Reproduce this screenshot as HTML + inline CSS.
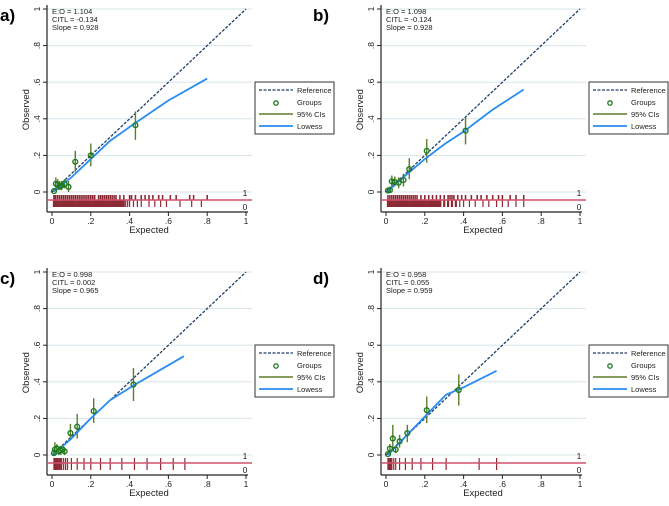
<!DOCTYPE html>
<html><head><meta charset="utf-8">
<style>
body{margin:0;background:#fff;width:669px;height:501px;overflow:hidden;font-family:"Liberation Sans",Arial,sans-serif}
svg text{font-family:"Liberation Sans",Arial,sans-serif}
</style></head>
<body>
<svg id="chart" width="669" height="501" viewBox="0 0 669 501" xmlns="http://www.w3.org/2000/svg"></svg>
<script>
// ---- data ----
const panelLabels = ["a)", "b)", "c)", "d)"];
const statsText = [
  ["E:O = 1.104", "CITL = -0.134", "Slope = 0.928"],
  ["E:O = 1.098", "CITL = -0.124", "Slope = 0.928"],
  ["E:O = 0.998", "CITL = 0.002", "Slope = 0.965"],
  ["E:O = 0.958", "CITL = 0.055", "Slope = 0.959"]
];
const tickValues = [0, 0.2, 0.4, 0.6, 0.8, 1];
const tickLabels = ["0", ".2", ".4", ".6", ".8", "1"];
const groupsA = [[0.01,0.005,0,0.02],[0.02,0.045,0.02,0.08],[0.03,0.04,0.01,0.07],[0.04,0.03,0.01,0.06],[0.05,0.035,0.01,0.06],[0.065,0.045,0.02,0.07],[0.085,0.028,0,0.06],[0.12,0.165,0.11,0.225],[0.2,0.2,0.14,0.265],[0.43,0.365,0.285,0.44]];
const groupsB = [[0.01,0.008,0,0.02],[0.02,0.01,0,0.03],[0.03,0.058,0.03,0.09],[0.045,0.055,0.03,0.085],[0.065,0.05,0.02,0.08],[0.09,0.065,0.03,0.1],[0.12,0.125,0.07,0.185],[0.21,0.225,0.16,0.29],[0.41,0.335,0.26,0.41]];
const groupsC = [[0.01,0.01,0,0.03],[0.015,0.03,0,0.07],[0.025,0.035,0.01,0.06],[0.035,0.02,0,0.05],[0.045,0.025,0,0.05],[0.055,0.03,0.01,0.06],[0.065,0.02,0,0.04],[0.095,0.12,0.08,0.17],[0.13,0.155,0.09,0.225],[0.215,0.24,0.175,0.31],[0.42,0.385,0.295,0.475]];
const groupsD = [[0.01,0.005,0,0.02],[0.02,0.035,0.01,0.06],[0.035,0.09,0.04,0.165],[0.05,0.03,0.01,0.05],[0.07,0.075,0.04,0.11],[0.11,0.12,0.07,0.165],[0.21,0.245,0.175,0.32],[0.375,0.355,0.27,0.44]];
const lowessA = [[0.01,0.005],[0.1,0.08],[0.2,0.18],[0.3,0.28],[0.42,0.37],[0.6,0.5],[0.8,0.62]];
const lowessB = [[0.01,0.005],[0.1,0.09],[0.2,0.18],[0.3,0.26],[0.4,0.33],[0.55,0.45],[0.71,0.56]];
const lowessC = [[0.01,0.005],[0.1,0.09],[0.2,0.2],[0.3,0.3],[0.42,0.38],[0.55,0.46],[0.68,0.54]];
const lowessD = [[0.01,0],[0.1,0.1],[0.2,0.21],[0.31,0.33],[0.4,0.37],[0.57,0.46]];
const rug1A = [0.01,0.015,0.02,0.03,0.04,0.05,0.06,0.07,0.08,0.09,0.1,0.11,0.12,0.13,0.14,0.15,0.16,0.17,0.18,0.19,0.2,0.21,0.22,0.24,0.25,0.26,0.27,0.28,0.29,0.3,0.31,0.32,0.33,0.35,0.37,0.4,0.41,0.43,0.46,0.48,0.5,0.52,0.55,0.57,0.61,0.64,0.71,0.73,0.8];
const rug0A = [0.01,0.02,0.03,0.04,0.05,0.06,0.07,0.08,0.09,0.1,0.11,0.12,0.13,0.14,0.15,0.16,0.17,0.18,0.19,0.2,0.21,0.22,0.23,0.24,0.25,0.26,0.27,0.28,0.29,0.3,0.31,0.32,0.33,0.34,0.35,0.36,0.37,0.38,0.39,0.4,0.42,0.44,0.46,0.5,0.53,0.56,0.59,0.66,0.72,0.77];
const rug1B = [0.01,0.02,0.03,0.04,0.05,0.06,0.07,0.08,0.09,0.1,0.11,0.12,0.13,0.14,0.15,0.16,0.18,0.2,0.22,0.24,0.26,0.28,0.3,0.32,0.33,0.34,0.35,0.37,0.39,0.41,0.44,0.47,0.49,0.52,0.55,0.58,0.6,0.64,0.67,0.71];
const rug0B = [0.01,0.02,0.03,0.04,0.05,0.06,0.07,0.08,0.09,0.1,0.11,0.12,0.13,0.14,0.15,0.16,0.17,0.18,0.19,0.2,0.21,0.22,0.23,0.24,0.25,0.26,0.27,0.28,0.3,0.32,0.34,0.36,0.38,0.4,0.43,0.46,0.5,0.53,0.57,0.6,0.63,0.67,0.71];
const rugC = [0.01,0.015,0.02,0.025,0.03,0.035,0.04,0.045,0.05,0.06,0.07,0.08,0.1,0.13,0.165,0.2,0.25,0.3,0.36,0.425,0.49,0.56,0.625,0.685];
const rugD = [0.01,0.015,0.02,0.025,0.03,0.04,0.05,0.07,0.1,0.135,0.18,0.24,0.31,0.48,0.57];

const panels = [
  {ox:0, oy:0, groups:groupsA, lowess:lowessA, rug1:rug1A, rug0:rug0A, single:false, name:"a"},
  {ox:334, oy:0, groups:groupsB, lowess:lowessB, rug1:rug1B, rug0:rug0B, single:false, name:"b"},
  {ox:0, oy:263, groups:groupsC, lowess:lowessC, rug1:rugC, rug0:[], single:true, name:"c"},
  {ox:334, oy:263, groups:groupsD, lowess:lowessD, rug1:rugD, rug0:[], single:true, name:"d"}
];

const NS = "http://www.w3.org/2000/svg";
const svg = document.getElementById("chart");
function mk(tag, attrs, parent, text){
  const e = document.createElementNS(NS, tag);
  for (const k in attrs) e.setAttribute(k, attrs[k]);
  if (text !== undefined) e.textContent = text;
  parent.appendChild(e);
  return e;
}

panels.forEach((p, i) => {
  const g = mk("g", {}, svg);
  
  
  const xs = v => p.ox + 52 + v * 194;
  const ys = v => p.oy + 192 - v * 183;
  const zeroY = ys(0), lineY = p.oy + 200, axisY = p.oy + 212;
  tickValues.forEach(t => {
    const l = mk("line", {x1:47+p.ox, x2:252+p.ox, y1:ys(t), y2:ys(t), stroke:"#d6e6ea", "stroke-width":1}, g);
    
    
  });
  const ya = mk("line", {x1:47+p.ox, x2:47+p.ox, y1:ys(1)-4, y2:axisY, stroke:"#222", "stroke-width":1.2}, g);
  
  
  const xa = mk("line", {x1:47+p.ox, x2:xs(1)+2, y1:axisY, y2:axisY, stroke:"#222", "stroke-width":1.2}, g);
  
  
  tickValues.forEach((t, k) => {
    mk("line", {x1:43+p.ox, x2:47+p.ox, y1:ys(t), y2:ys(t), stroke:"#222"}, g);
    const yl = mk("text", {x:0, y:0, transform:`translate(${40+p.ox},${ys(t)}) rotate(-90)`, "font-size":8.5, "text-anchor":"middle", fill:"#222"}, g, tickLabels[k]);
    
    
    mk("line", {x1:xs(t), x2:xs(t), y1:axisY, y2:axisY+4, stroke:"#222"}, g);
    const xl = mk("text", {x:xs(t), y:axisY+12, "font-size":8.5, "text-anchor":"middle", fill:"#222"}, g, tickLabels[k]);
    
    
  });
  const xt = mk("text", {x:xs(0.5), y:axisY+21, "font-size":9.5, "text-anchor":"middle", fill:"#222"}, g, "Expected");
  
  
  const yt = mk("text", {x:0, y:0, transform:`translate(${29+p.ox},${ys(0.45)}) rotate(-90)`, "font-size":9.5, "text-anchor":"middle", fill:"#222"}, g, "Observed");
  
  
  const pl = mk("text", {x:p.ox + (i%2 ? -21 : 0), y:p.oy + 21, "font-size":17, "font-weight":"bold", fill:"#000"}, g, panelLabels[i]);
  
  
  statsText[i].forEach((s, k) => {
    const st = mk("text", {x:52+p.ox, y:ys(1)+5+k*8, "font-size":7.5, fill:"#222"}, g, s);
    
    
  });
  p.rug1.forEach(v => {
    const r = mk("line", {x1:xs(v), x2:xs(v), y1:zeroY+3, y2:p.single ? p.oy+207 : lineY, stroke:"#8b2a35", "stroke-width":p.single ? 1.2 : 1.6}, g);
    
    
  });
  p.rug0.forEach(v => {
    const r = mk("line", {x1:xs(v), x2:xs(v), y1:lineY, y2:p.oy+207, stroke:"#8b2a35", "stroke-width":v <= 0.37 ? 2.2 : 1.2}, g);
    
    
  });
  const rl = mk("line", {x1:47+p.ox, x2:252+p.ox, y1:lineY, y2:lineY, stroke:"#d2506a", "stroke-width":1.4}, g);
  
  
  const l1 = mk("text", {x:245+p.ox, y:zeroY+4, "font-size":8.5, "text-anchor":"middle", fill:"#222"}, g, "1");
  
  
  const l0 = mk("text", {x:245+p.ox, y:p.oy+210, "font-size":8.5, "text-anchor":"middle", fill:"#222"}, g, "0");
  
  
  const ref = mk("line", {x1:xs(0), y1:ys(0), x2:xs(1), y2:ys(1), stroke:"#1f3f66", "stroke-width":1.3, "stroke-dasharray":"3,1.5"}, g);
  
  
  p.groups.forEach(d => {
    const c = mk("line", {x1:xs(d[0]), x2:xs(d[0]), y1:ys(d[2]), y2:ys(d[3]), stroke:"#5d7d2c", "stroke-width":1.4}, g);
    
    
  });
  const pts = p.lowess.map(d => xs(d[0]) + "," + ys(d[1])).join(" ");
  const lw = mk("polyline", {points:pts, fill:"none", stroke:"#2a8cf0", "stroke-width":1.8}, g);
  
  
  p.groups.forEach(d => {
    const c = mk("circle", {cx:xs(d[0]), cy:ys(d[1]), r:2.4, fill:"none", stroke:"#1f7a1f", "stroke-width":1.4}, g);
    
    
  });
  const lx = 255 + p.ox, ly = p.oy + 82;
  const lg = mk("g", {}, g);
  
  
  mk("rect", {x:lx, y:ly, width:79, height:52, fill:"#fff", stroke:"#333", "stroke-width":1}, lg);
  const items = ["Reference", "Groups", "95% CIs", "Lowess"];
  items.forEach((t, k) => {
    const yy = ly + 8 + k * 12;
    if (k === 0) mk("line", {x1:lx+4, x2:lx+38, y1:yy, y2:yy, stroke:"#1f3f66", "stroke-width":1.3, "stroke-dasharray":"3,1.5"}, lg);
    if (k === 1) mk("circle", {cx:lx+21, cy:yy+1, r:2.2, fill:"none", stroke:"#1f7a1f", "stroke-width":1.3}, lg);
    if (k === 2) mk("line", {x1:lx+4, x2:lx+38, y1:yy, y2:yy, stroke:"#5d7d2c", "stroke-width":1.4}, lg);
    if (k === 3) mk("line", {x1:lx+4, x2:lx+38, y1:yy, y2:yy, stroke:"#2a8cf0", "stroke-width":1.8}, lg);
    const te = mk("text", {x:lx+42, y:yy+3, "font-size":7.5, fill:"#222"}, lg, t);
    
    
  });
});
</script>
</body></html>
